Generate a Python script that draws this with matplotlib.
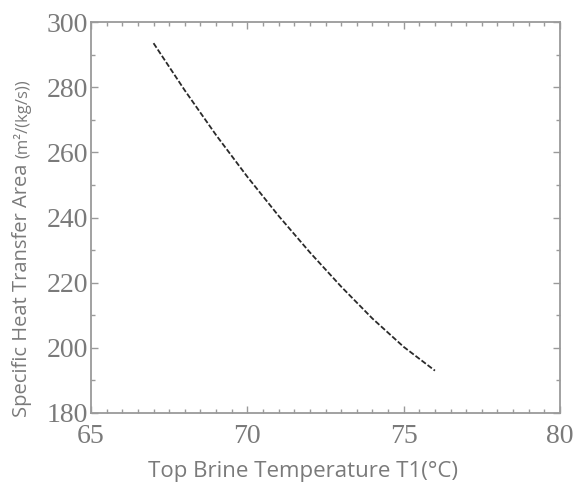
import matplotlib
matplotlib.use("Agg")
import matplotlib.pyplot as plt
from matplotlib.ticker import MultipleLocator

# values
temps = [67, 68, 69, 70, 71, 72, 73, 74, 75, 76]
area = [293.5, 279.0, 265.3, 252.5, 240.5, 229.3, 218.8, 209.0, 200.3, 193.0]

xticks = [65, 70, 75, 80]
yticks = [180, 200, 220, 240, 260, 280, 300]

grey = "#7a7a7a"
spine_grey = "#9a9a9a"

fig = plt.figure(figsize=(5.81, 4.87), dpi=100)
ax = fig.add_axes([91 / 581, 1 - 413 / 487, (560 - 91) / 581, (413 - 22) / 487])

ax.plot(temps, area, color="#2a2a2a", linestyle=(0, (3, 1.2)), linewidth=1.3)

ax.set_xlim(65, 80)
ax.set_ylim(180, 300)
ax.set_xticks(xticks)
ax.set_yticks(yticks)
ax.xaxis.set_minor_locator(MultipleLocator(0.5))
ax.yaxis.set_minor_locator(MultipleLocator(10))

for s in ax.spines.values():
    s.set_color(spine_grey)
    s.set_linewidth(1.3)

ax.tick_params(which="both", direction="in", top=True, right=True,
               color=spine_grey, width=1.0)
ax.tick_params(which="major", length=5, labelsize=20, labelcolor=grey, pad=2)
ax.tick_params(axis="x", which="major", pad=8)
ax.tick_params(which="minor", length=3)
for lab in ax.get_xticklabels() + ax.get_yticklabels():
    lab.set_family("Liberation Serif")

ax.set_xlabel("Top Brine Temperature T1(°C)", family="Open Sans", fontsize=16,
              color=grey)
ax.xaxis.set_label_coords(0.453, -0.122)

# y label: main text plus a smaller unit part
t1 = fig.text(22 / 581, 1 - 417 / 487, "Specific Heat Transfer Area ", rotation=90,
              ha="center", va="bottom", family="Open Sans", fontsize=14.5, color=grey)
fig.canvas.draw()
bb = t1.get_window_extent()
fig.text(22 / 581, bb.y1 / fig.bbox.height, "(m²/(kg/s))", rotation=90,
         ha="center", va="bottom", family="Open Sans", fontsize=12, color=grey)

fig.savefig("out.png", dpi=100)
